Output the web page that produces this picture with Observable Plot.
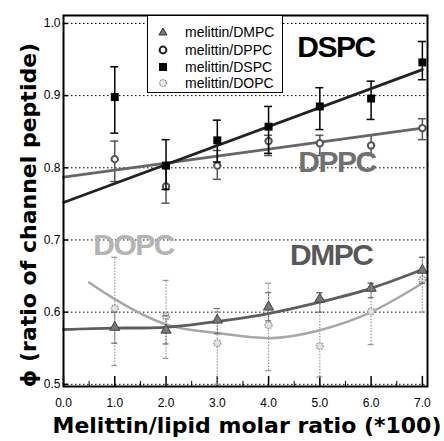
<!DOCTYPE html>
<html><head><meta charset="utf-8">
<script src="https://cdn.jsdelivr.net/npm/d3@7"></script>
<script src="https://cdn.jsdelivr.net/npm/@observablehq/plot@0.6"></script>
<style>
html,body{margin:0;padding:0;background:#fff;}
#wrap{position:relative;width:444px;height:441px;overflow:hidden;}
#legend{position:absolute;left:147px;top:15px;width:136px;height:78px;border:1px solid #000;background:#fff;box-sizing:border-box;font-family:"Liberation Sans",Arial,sans-serif;font-size:14px;color:#000;}
.lrow{position:absolute;left:0;height:17px;line-height:17px;white-space:nowrap;}
.lrow svg{position:absolute;left:8px;top:1px;}
.lrow span{position:absolute;left:37px;top:0;}
g[font-size="30"] text{letter-spacing:-1.5px;}
</style></head>
<body><div id="wrap"></div>
<script>
// ---- data ----
const conc = [1, 2, 3, 4, 5, 6, 7];                 // melittin/lipid molar ratio (*100)
const xMajor = [0, 1, 2, 3, 4, 5, 6, 7];
const xMinor = [0.5, 1.5, 2.5, 3.5, 4.5, 5.5, 6.5];
const yTicks = [0.5, 0.6, 0.7, 0.8, 0.9, 1.0];

const dspcPhi = [0.898, 0.803, 0.838, 0.857, 0.885, 0.896, 0.946];
const dspcLo  = [0.848, 0.770, 0.808, 0.820, 0.853, 0.867, 0.922];
const dspcHi  = [0.940, 0.839, 0.866, 0.885, 0.911, 0.920, 0.975];

const dppcPhi = [0.812, 0.774, 0.803, 0.837, 0.834, 0.831, 0.855];
const dppcLo  = [0.781, 0.751, 0.784, 0.817, 0.817, 0.817, 0.839];
const dppcHi  = [0.837, 0.800, 0.824, 0.845, 0.845, 0.845, 0.868];

const dmpcPhi = [0.579, 0.575, 0.589, 0.607, 0.618, 0.633, 0.658];
const dmpcLo  = [0.557, 0.556, 0.570, 0.588, 0.600, 0.620, 0.640];
const dmpcHi  = [0.600, 0.595, 0.605, 0.627, 0.627, 0.640, 0.676];

const dopcPhi = [0.605, 0.594, 0.557, 0.582, 0.553, 0.601, 0.645];
const dopcLo  = [0.526, 0.536, 0.500, 0.519, 0.510, 0.555, 0.600];
const dopcHi  = [0.676, 0.644, 0.600, 0.640, 0.627, 0.640, 0.676];

// fitted lines / curves as drawn in the figure
const fitX = [0, 7];
const dspcFit = [0.752, 0.936];
const dppcFit = [0.787, 0.855];
const dmpcCurveX = [0, 1, 2, 3, 4, 5, 6, 7];
const dmpcCurve  = [0.576, 0.578, 0.579, 0.587, 0.598, 0.614, 0.633, 0.659];
const dopcCurveX = [0.5, 1, 2, 3, 4, 5, 6, 7];
const dopcCurve  = [0.641, 0.618, 0.583, 0.571, 0.564, 0.575, 0.600, 0.640];

// in-plot lipid labels (anchor in data units)
const lipidNames = ["DSPC", "DPPC", "DMPC", "DOPC"];
const lipidLabelX = [4.56, 4.58, 4.42, 0.58];
const lipidLabelY = [0.954, 0.794, 0.665, 0.679];

const legendNames = ["melittin/DMPC", "melittin/DPPC", "melittin/DSPC", "melittin/DOPC"];

// ---- build tables ----
const pts = (phi, lo, hi) => conc.map((x, i) => ({x, phi: phi[i], lo: lo[i], hi: hi[i]}));
const dspc = pts(dspcPhi, dspcLo, dspcHi);
const dppc = pts(dppcPhi, dppcLo, dppcHi);
const dmpc = pts(dmpcPhi, dmpcLo, dmpcHi);
const dopc = pts(dopcPhi, dopcLo, dopcHi);
const line = (xs, ys) => xs.map((x, i) => ({x, y: ys[i]}));
const labels = lipidNames.map((t, i) => ({t, x: lipidLabelX[i], y: lipidLabelY[i]}));
const labelColor = {DSPC: "#000", DPPC: "#707070", DMPC: "#585858", DOPC: "#b4b4b4"};

const Y0 = 0.497, Y1 = 1.011;

function errMarks(data, color, width, dash, cap) {
  return [
    Plot.ruleX(data, {x: "x", y1: "lo", y2: "hi", stroke: color, strokeWidth: width, strokeDasharray: dash}),
    Plot.ruleY(data, {y: "lo", x1: "x", x2: "x", insetLeft: -cap, insetRight: -cap, stroke: color, strokeWidth: width}),
    Plot.ruleY(data, {y: "hi", x1: "x", x2: "x", insetLeft: -cap, insetRight: -cap, stroke: color, strokeWidth: width})
  ];
}

const chart = Plot.plot({
  width: 444, height: 441,
  marginLeft: 63, marginRight: 17, marginTop: 15, marginBottom: 55,
  x: {domain: [0, 7.1]},
  y: {domain: [Y0, Y1]},
  style: {fontFamily: "'Liberation Sans', Arial, sans-serif", background: "#fff", color: "#000"},
  marks: [
    Plot.ruleY(yTicks, {y: d => d, stroke: "#000", strokeWidth: 1, strokeDasharray: "1.5,2.5"}),
    // inward ticks
    Plot.ruleX(xMajor, {x: d => d, y1: Y0, y2: Y0 + 0.014, stroke: "#000", strokeWidth: 1.5}),
    Plot.ruleX(xMinor, {x: d => d, y1: Y0, y2: Y0 + 0.007, stroke: "#000", strokeWidth: 1}),
    Plot.ruleY(yTicks, {y: d => d, x1: 0, x2: 0.1, stroke: "#000", strokeWidth: 1.5}),
    Plot.axisX({ticks: xMajor, tickSize: 0, tickPadding: 12, tickFormat: d => d.toFixed(1), fontSize: 12, label: null}),
    Plot.axisY({ticks: yTicks, tickSize: 0, tickPadding: 3, tickFormat: d => d.toFixed(1), fontSize: 12, label: null}),

    // DOPC (light gray, dotted)
    ...errMarks(dopc, "#9a9a9a", 1.2, "1.5,1.5", 3),
    Plot.line(line(dopcCurveX, dopcCurve), {x: "x", y: "y", curve: "natural", stroke: "#a8a8a8", strokeWidth: 2.5}),
    Plot.dot(dopc, {x: "x", y: "phi", r: 3.4, fill: "#e4e4e4", stroke: "#9a9a9a", strokeWidth: 1.5, strokeDasharray: "1.5,1"}),

    // DMPC (dark gray triangles)
    ...errMarks(dmpc, "#6a6a6a", 1.2, "1.5,1.5", 3),
    Plot.line(line(dmpcCurveX, dmpcCurve), {x: "x", y: "y", curve: "natural", stroke: "#5e5e5e", strokeWidth: 2.8}),
    Plot.dot(dmpc, {x: "x", y: "phi", symbol: "triangle", r: 3.8, fill: "#777", stroke: "#444", strokeWidth: 1}),

    // DPPC (gray open circles)
    ...errMarks(dppc, "#555", 1.5, null, 4),
    Plot.line(line(fitX, dppcFit), {x: "x", y: "y", stroke: "#666", strokeWidth: 2.8}),
    Plot.dot(dppc, {x: "x", y: "phi", r: 3.2, fill: "#fff", stroke: "#555", strokeWidth: 2}),

    // DSPC (black squares)
    ...errMarks(dspc, "#000", 1.5, null, 4),
    Plot.line(line(fitX, dspcFit), {x: "x", y: "y", stroke: "#222", strokeWidth: 2.8}),
    Plot.dot(dspc, {x: "x", y: "phi", symbol: "square", r: 4.5, fill: "#000"}),

    // lipid labels
    Plot.text(labels, {x: "x", y: "y", text: "t", textAnchor: "start", lineAnchor: "bottom",
      fill: d => labelColor[d.t], fontSize: 30, fontWeight: "bold", fontFamily: "'Liberation Sans', Arial, sans-serif"}),

    Plot.frame({stroke: "#000", strokeWidth: 2})
  ]
});

const wrap = document.getElementById("wrap");
wrap.appendChild(chart);

// axis titles
const svg = d3.select(chart);
svg.append("text")
  .attr("x", 247).attr("y", 433)
  .attr("text-anchor", "middle")
  .attr("font-family", "'DejaVu Sans', sans-serif").attr("font-weight", "bold").attr("font-size", 22)
  .attr("fill", "#000")
  .text("Melittin/lipid molar ratio (*100)");
svg.append("text")
  .attr("transform", "translate(36,215) rotate(-90)")
  .attr("text-anchor", "middle")
  .attr("font-family", "'DejaVu Sans', sans-serif").attr("font-weight", "bold").attr("font-size", 22)
  .attr("fill", "#000")
  .text("ϕ (ratio of channel peptide)");

// legend
const legend = document.createElement("div");
legend.id = "legend";
const sym = [
  '<svg width="14" height="14"><path d="M7,3 L11,10 L3,10 Z" fill="#777" stroke="#333" stroke-width="1"/></svg>',
  '<svg width="14" height="14"><circle cx="7" cy="7" r="3.4" fill="#fff" stroke="#222" stroke-width="2"/></svg>',
  '<svg width="14" height="14"><rect x="3" y="3" width="8" height="8" fill="#000"/></svg>',
  '<svg width="14" height="14"><circle cx="7" cy="7" r="3.4" fill="#eee" stroke="#999" stroke-width="1.5" stroke-dasharray="1.5,1"/></svg>'
];
const rowTop = [8, 26, 43, 59];
legendNames.forEach((n, i) => {
  const r = document.createElement("div");
  r.className = "lrow";
  r.style.top = rowTop[i] + "px";
  r.innerHTML = sym[i] + "<span>" + n + "</span>";
  legend.appendChild(r);
});
wrap.appendChild(legend);
</script>
</body></html>
